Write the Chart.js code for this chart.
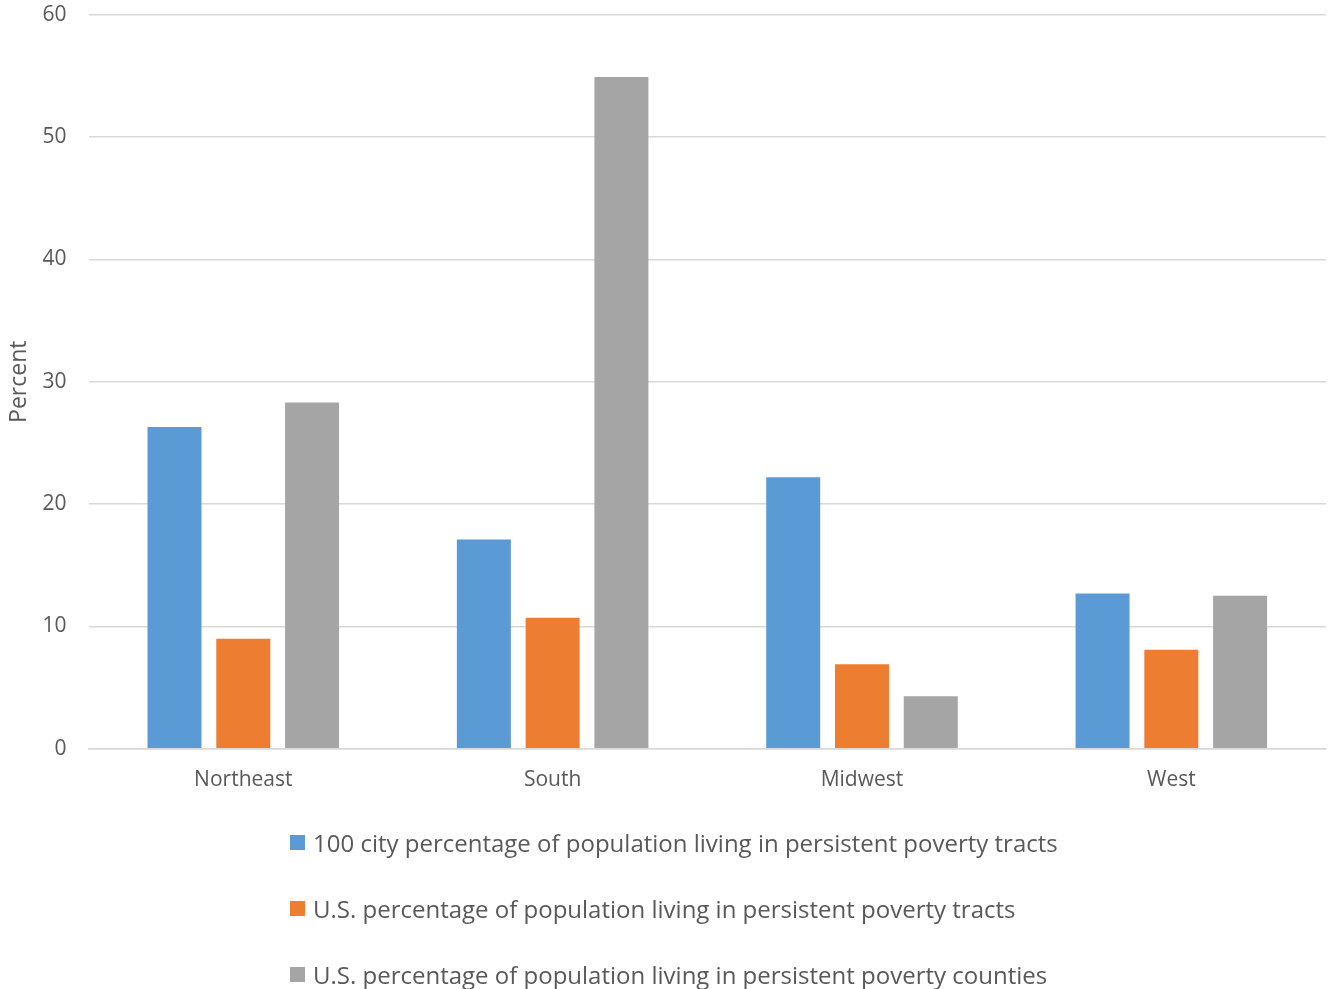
<!DOCTYPE html>
<html>
<head>
<meta charset="utf-8">
<script src="https://cdn.jsdelivr.net/npm/chart.js@4"></script>
<style>
  html, body { margin: 0; padding: 0; background: #fff; overflow: hidden; }
  #wrap { position: relative; width: 1330px; height: 989px; overflow: hidden; }
  #c { position: absolute; left: 0; top: -20px; }
  #legend { position: absolute; left: 290px; top: 826px; font-family: "Open Sans", sans-serif; font-size: 24px; color: #595959; }
  #legend .row { display: flex; align-items: center; height: 32px; margin-bottom: 34px; white-space: nowrap; }
  #legend .box { width: 15px; height: 15px; margin-right: 8px; flex: none; }
</style>
</head>
<body>
<div id="wrap">
  <canvas id="c" width="1330" height="1009"></canvas>
  <div id="legend"></div>
</div>
<script>
const regions = ["Northeast", "South", "Midwest", "West"];
const cityTracts = [26.3, 17.1, 22.2, 12.7];
const usTracts = [9.0, 10.7, 6.9, 8.1];
const usCounties = [28.3, 54.9, 4.3, 12.5];
const seriesNames = [
  "100 city percentage of population living in persistent poverty tracts",
  "U.S. percentage of population living in persistent poverty tracts",
  "U.S. percentage of population living in persistent poverty counties"
];
const seriesColors = ["#5B9BD5", "#ED7D31", "#A5A5A5"];
const yTicks = [0, 10, 20, 30, 40, 50, 60];

const textColor = "#595959";
const fontFamily = '"Open Sans", sans-serif';

const chart = new Chart(document.getElementById("c"), {
  type: "bar",
  data: {
    labels: regions,
    datasets: [cityTracts, usTracts, usCounties].map((vals, i) => ({
      label: seriesNames[i],
      data: vals,
      backgroundColor: seriesColors[i],
      borderWidth: 0,
      categoryPercentage: 0.667,
      barPercentage: 0.785
    }))
  },
  options: {
    responsive: false,
    animation: false,
    layout: { padding: { left: 4, right: 4, top: 2, bottom: 177 } },
    plugins: {
      legend: { display: false },
      tooltip: { enabled: false }
    },
    scales: {
      x: {
        grid: { display: false, drawTicks: false },
        border: { display: true, color: "#d9d9d9", width: 1.5 },
        ticks: { color: textColor, font: { family: fontFamily, size: 21 }, padding: 19 }
      },
      y: {
        min: yTicks[0],
        max: yTicks[yTicks.length - 1],
        afterBuildTicks: (axis) => { axis.ticks = yTicks.map(v => ({ value: v })); },
        grid: { color: "#d9d9d9", lineWidth: 1.5, drawTicks: false },
        border: { display: false },
        ticks: { color: textColor, font: { family: fontFamily, size: 21 }, padding: 22 },
        title: {
          display: true,
          text: "Percent",
          color: textColor,
          font: { family: fontFamily, size: 23 },
          padding: { top: 2, bottom: -13 }
        }
      }
    }
  }
});

// Legend rows stacked below the chart, one series per row
const legendEl = document.getElementById("legend");
chart.data.datasets.forEach(ds => {
  const row = document.createElement("div");
  row.className = "row";
  const box = document.createElement("span");
  box.className = "box";
  box.style.background = ds.backgroundColor;
  const txt = document.createElement("span");
  txt.textContent = ds.label;
  row.appendChild(box);
  row.appendChild(txt);
  legendEl.appendChild(row);
});
</script>
</body>
</html>
